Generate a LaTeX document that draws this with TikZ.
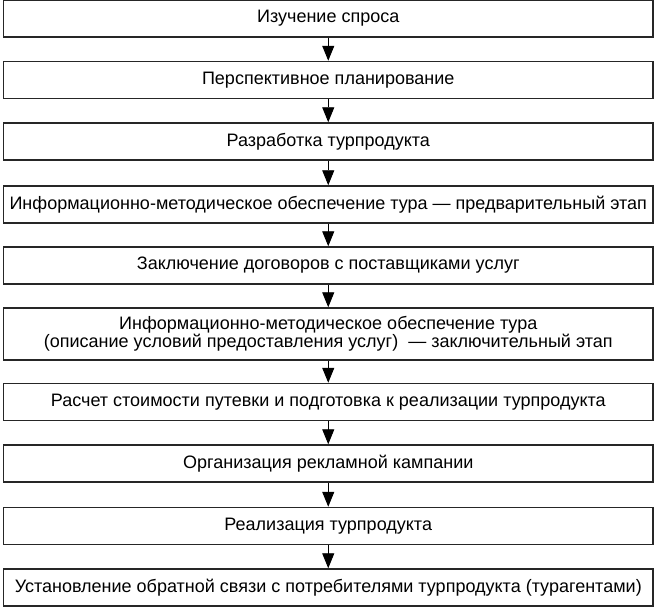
\documentclass[tikz,border=0pt]{standalone}
\usepackage{fontspec}
\setmainfont{Liberation Sans}
\usepackage{tikz}
\usetikzlibrary{arrows.meta,positioning}

\begin{document}
\begin{tikzpicture}
[stage/.style={draw=black!85,line width=0.85pt,inner sep=0pt,minimum width=12.99cm,minimum height=0.74cm,font=\fontsize{10.25}{10.3}\selectfont,align=center},
>={Triangle[length=3mm,width=2.4mm]}]

\useasboundingbox (0,0) rectangle (13.14,-12.12);

\node[stage] (s1) at (6.565,-0.37) {Изучение спроса};
\node[stage] (s2) at (6.565,-1.60) {Перспективное планирование};
\node[stage] (s3) at (6.565,-2.83) {Разработка турпродукта};
\node[stage] (s4) at (6.565,-4.09) {Информационно-методическое обеспечение тура — предварительный этап};
\node[stage] (s5) at (6.565,-5.31) {Заключение договоров с поставщиками услуг};

\node[stage,minimum height=1.04cm] (s6) at (6.565,-6.68) {Информационно-методическое обеспечение тура\\(описание условий предоставления услуг) \ — заключительный этап};

\node[stage] (s7) at (6.565,-8.04) {Расчет стоимости путевки и подготовка к реализации турпродукта};
\node[stage] (s8) at (6.565,-9.27) {Организация рекламной кампании};
\node[stage] (s9) at (6.565,-10.52) {Реализация турпродукта};
\node[stage] (s10) at (6.565,-11.75) {Установление обратной связи с потребителями турпродукта (турагентами)};

\foreach \a/\b in {s1/s2,s2/s3,s3/s4,s4/s5,s5/s6,s6/s7,s7/s8,s8/s9,s9/s10}
  \draw [->,line width=0.55pt] (\a) -- (\b);
\end{tikzpicture}
\end{document}
